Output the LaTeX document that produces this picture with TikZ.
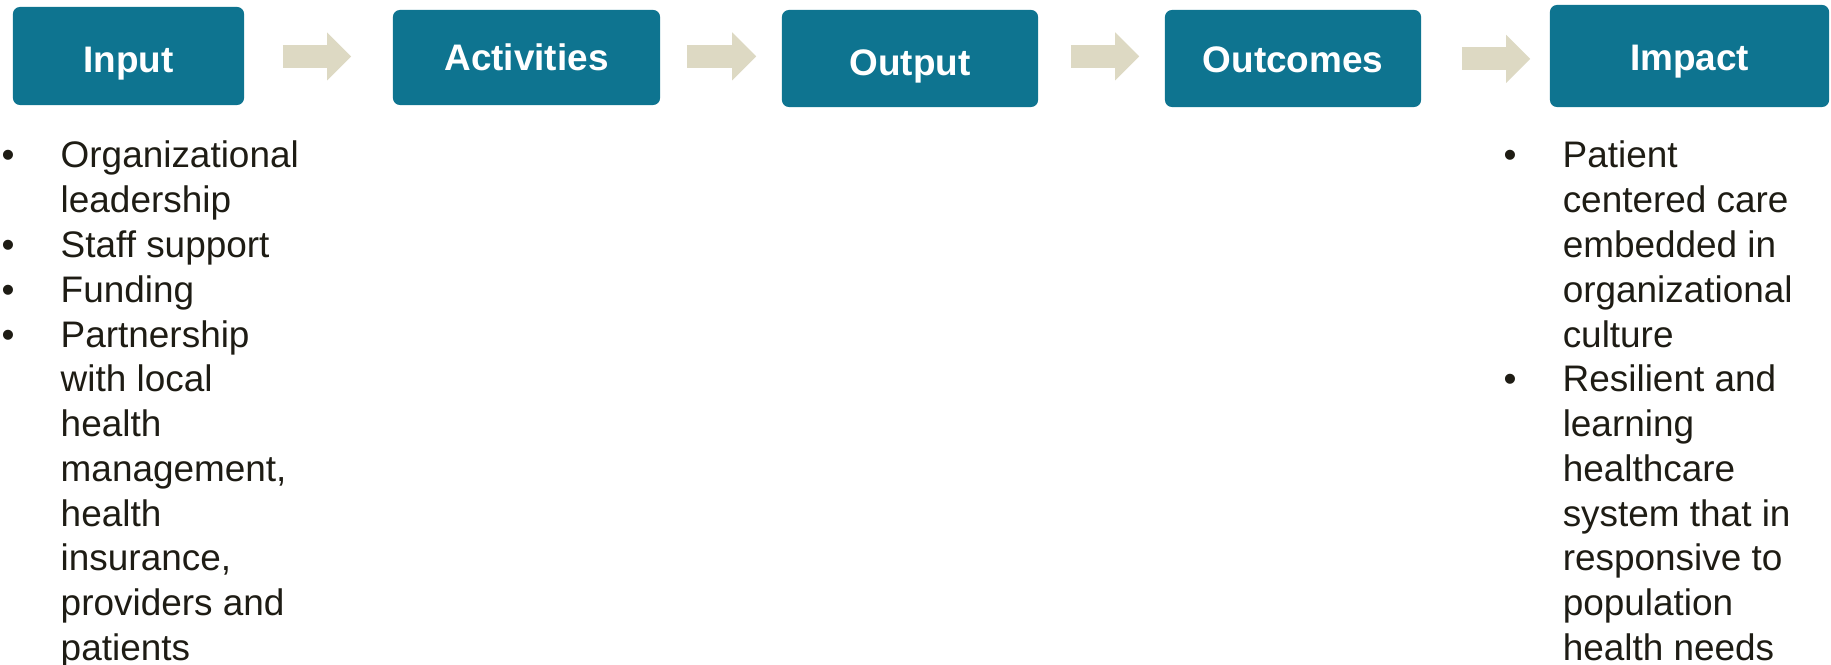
\documentclass[tikz,border=0pt]{standalone}
\usepackage{fontspec}
\setmainfont{Liberation Sans}
\usetikzlibrary{arrows.meta,calc}
\definecolor{stageteal}{RGB}{14,116,144}
\definecolor{flowtan}{RGB}{221,217,195}
\definecolor{listdark}{RGB}{30,28,20}
\tikzset{
  stage/.style={fill=stageteal, rounded corners=2pt, text=white, inner sep=0pt,
    font=\fontsize{10.5}{12}\selectfont\bfseries, text height=0.31cm, text depth=0pt},
  flow/.style={draw=flowtan, line width=0.23cm,
    -{Triangle[length=0.24cm, width=0.48cm, line width=0pt, fill=flowtan]}},
  bullets/.style={anchor=base west, inner sep=0pt, text=listdark,
    font=\fontsize{10.5}{12.73}\selectfont}
}
\begin{document}
\begin{tikzpicture}[x=0.01cm, y=-0.01cm]
\useasboundingbox (0,0) rectangle (1831,665);
\node[stage, minimum width=2.31cm, minimum height=0.98cm, text height=0.34cm] (input) at (128.5,56) {Input};
\node[stage, minimum width=2.67cm, minimum height=0.95cm, text height=0.27cm] (activities) at (526.5,57.5) {Activities};
\node[stage, minimum width=2.56cm, minimum height=0.97cm, text height=0.35cm] (output) at (910,58.5) {Output};
\node[stage, minimum width=2.56cm, minimum height=0.97cm, text height=0.29cm] (outcomes) at (1293,58.5) {Outcomes};
\node[stage, minimum width=2.79cm, minimum height=1.02cm, text height=0.30cm] (impact) at (1689.5,56) {Impact};
\path[flow] ($(input.east)+(38,0.5)$) -- ($(activities.west)+(-41,-1)$);
\path[flow] ($(activities.east)+(26,-1)$) -- ($(output.west)+(-25,-2)$);
\path[flow] ($(output.east)+(32,-2)$) -- ($(outcomes.west)+(-25,-2)$);
\path[flow] ($(outcomes.east)+(40,0.5)$) -- ($(impact.west)+(-19,3)$);
\node[bullets] (inputlist) at (1,168) {\begin{tabular}[t]{@{}p{0.59cm}@{}l@{}}
\textbullet & Organizational\\
 & leadership\\
\textbullet & Staff support\\
\textbullet & Funding\\
\textbullet & Partnership\\
 & with local\\
 & health\\
 & management,\\
 & health\\
 & insurance,\\
 & providers and\\
 & patients
\end{tabular}};
\node[bullets] (impactlist) at (1503,168) {\begin{tabular}[t]{@{}p{0.59cm}@{}l@{}}
\textbullet & Patient\\
 & centered care\\
 & embedded in\\
 & organizational\\
 & culture\\
\textbullet & Resilient and\\
 & learning\\
 & healthcare\\
 & system that in\\
 & responsive to\\
 & population\\
 & health needs
\end{tabular}};
\end{tikzpicture}
\end{document}
